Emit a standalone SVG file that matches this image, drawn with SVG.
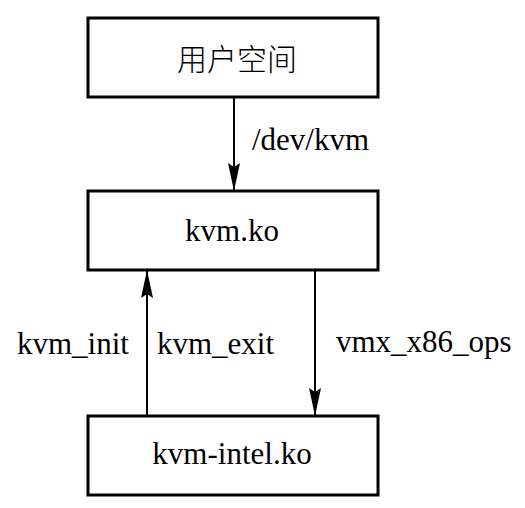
<svg xmlns="http://www.w3.org/2000/svg" width="525" height="508" viewBox="0 0 525 508">
<style>
.box{fill:#fff;stroke:#000;stroke-width:3}
.t{font-family:'Liberation Serif','Times New Roman',serif;font-size:31px;fill:#000}
.cjk{font-family:'Liberation Serif','Noto Sans CJK SC',serif;font-size:30px;fill:#000;font-weight:300}
.c{text-anchor:middle}
.ln{stroke:#000;stroke-width:2;fill:none}
</style>
<defs>
<marker id="ah" markerWidth="28" markerHeight="12" refX="28" refY="6" orient="auto" markerUnits="userSpaceOnUse" viewBox="0 0 28 12">
<path d="M0,0 L28,6 L0,12 L4,6 Z" fill="#000"/>
</marker>
</defs>
<rect width="525" height="508" fill="#fff"/>
<g id="connectors">
<path class="ln" d="M234,97 V191" marker-end="url(#ah)"/>
<path class="ln" d="M147,416 V270" marker-end="url(#ah)"/>
<path class="ln" d="M315,270 V416" marker-end="url(#ah)"/>
<text class="t" x="252" y="150">/dev/kvm</text>
<text class="t" x="17" y="354">kvm_init</text>
<text class="t" x="157" y="354">kvm_exit</text>
<text class="t" x="336" y="352">vmx_x86_ops</text>
</g>
<g id="node-user">
<rect class="box" x="88" y="18" width="290" height="79"/>
<text class="cjk c" x="237" y="70">用户空间</text>
</g>
<g id="node-kvm">
<rect class="box" x="88" y="191" width="290" height="79"/>
<text class="t c" x="232" y="241">kvm.ko</text>
</g>
<g id="node-kvm-intel">
<rect class="box" x="88" y="416" width="290" height="79"/>
<text class="t c" x="232" y="464">kvm-intel.ko</text>
</g>
</svg>
